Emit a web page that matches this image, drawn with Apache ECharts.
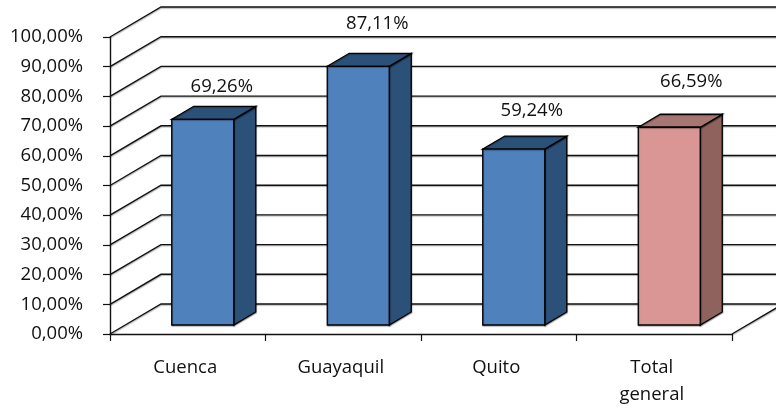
<!DOCTYPE html>
<html>
<head>
<meta charset="utf-8">
<style>html,body{margin:0;padding:0;background:#fff}#c{width:776px;height:408px}</style>
<script src="https://cdn.jsdelivr.net/npm/echarts@6/dist/echarts.min.js"></script>
</head>
<body>
<div id="c"></div>
<script>
const categories = ['Cuenca', 'Guayaquil', 'Quito', 'Total\ngeneral'];
const values = [69.26, 87.11, 59.24, 66.59];
const valueLabels = ['69,26%', '87,11%', '59,24%', '66,59%'];
const gridValues = [0, 10, 20, 30, 40, 50, 60, 70, 80, 90, 100];

const labelFamily = '"Open Sans", "Noto Sans", sans-serif';
const wallDepth = [51, -30];
const barFrontDepth = [15, -9];
const barDepth = [22, -13];
const barWidth = 62;
const labelShift = [[19, -33], [19, -43], [18, -38], [22, -45]];
const palette = [
  { front: '#4F81BD', top: '#2C5179', side: '#2C5179' },
  { front: '#4F81BD', top: '#2C5179', side: '#2C5179' },
  { front: '#4F81BD', top: '#2C5179', side: '#2C5179' },
  { front: '#D99694', top: '#A87672', side: '#8E635E' }
];
const ink = '#111';
const softShadow = { shadowColor: 'rgba(0,0,0,0.3)', shadowBlur: 1, shadowOffsetX: 0.5, shadowOffsetY: 1 };

const chart = echarts.init(document.getElementById('c'), null, { renderer: 'canvas' });

function wallRender(params, api) {
  const v = api.value(0);
  const halfCat = api.size([1, 0])[0] / 2;
  const p = api.coord([0, v]);
  const left = p[0] - halfCat;
  const right = api.coord([categories.length - 1, v])[0] + halfCat;
  const points = [[left, p[1]], [left + wallDepth[0], p[1] + wallDepth[1]], [right + wallDepth[0], p[1] + wallDepth[1]]];
  const children = [{
    type: 'polyline',
    shape: { points: points },
    style: Object.assign({ fill: null, stroke: ink, lineWidth: 1.4 }, softShadow)
  }];
  if (v === 0) {
    children.push({
      type: 'line',
      shape: { x1: right, y1: p[1], x2: right + wallDepth[0], y2: p[1] + wallDepth[1] },
      style: Object.assign({ stroke: ink, lineWidth: 1.4 }, softShadow)
    });
  }
  return { type: 'group', children: children };
}

function barRender(params, api) {
  const i = api.value(0);
  const v = api.value(1);
  const c = palette[i];
  const base = api.coord([i, 0]);
  const top = api.coord([i, v]);
  const x0 = base[0] + barFrontDepth[0] - barWidth / 2;
  const x1 = x0 + barWidth;
  const yb = base[1] + barFrontDepth[1];
  const yt = top[1] + barFrontDepth[1];
  const dx = barDepth[0], dy = barDepth[1];
  const edge = { stroke: '#000', lineWidth: 1.3, lineJoin: 'miter' };
  return {
    type: 'group',
    children: [
      { type: 'polygon', shape: { points: [[x1, yt], [x1 + dx, yt + dy], [x1 + dx, yb + dy], [x1, yb]] },
        style: Object.assign({ fill: c.side }, edge, softShadow) },
      { type: 'polygon', shape: { points: [[x0, yt], [x0 + dx, yt + dy], [x1 + dx, yt + dy], [x1, yt]] },
        style: Object.assign({ fill: c.top }, edge, softShadow) },
      { type: 'rect', shape: { x: x0, y: yt, width: barWidth, height: yb - yt },
        style: Object.assign({ fill: c.front }, edge, softShadow) },
      { type: 'text', style: {
          x: base[0] + barFrontDepth[0] + labelShift[i][0],
          y: yt + labelShift[i][1],
          text: valueLabels[i], fill: '#111', align: 'center', verticalAlign: 'middle',
          font: '18.5px ' + labelFamily } }
    ]
  };
}

chart.setOption({
  animation: false,
  backgroundColor: '#fff',
  grid: { left: 110, right: 44, top: 37, bottom: 72, containLabel: false },
  xAxis: {
    type: 'category',
    data: categories,
    boundaryGap: true,
    axisLine: { show: true, lineStyle: { color: ink, width: 1.4 } },
    axisTick: { show: true, alignWithLabel: false, length: 7, lineStyle: { color: ink, width: 1.2 } },
    axisLabel: { color: '#111', fontFamily: labelFamily, fontSize: 18.5, margin: 20, lineHeight: 27, interval: 0, padding: [0, 5, 0, 0] },
    splitLine: { show: false }
  },
  yAxis: {
    type: 'value',
    min: 0,
    max: 100,
    interval: 10,
    axisLine: { show: true, lineStyle: { color: ink, width: 1.4 } },
    axisTick: { show: true, length: 7, lineStyle: { color: ink, width: 1.2 } },
    axisLabel: {
      color: '#111', fontFamily: labelFamily, fontSize: 18.5, margin: 27,
      formatter: function (v) { return v.toFixed(2).replace('.', ',') + '%'; }
    },
    splitLine: { show: false }
  },
  series: [
    {
      type: 'custom',
      coordinateSystem: 'cartesian2d',
      clip: false,
      silent: true,
      z: 1,
      encode: { y: 0 },
      data: gridValues.map(function (v) { return [v]; }),
      renderItem: wallRender
    },
    {
      type: 'custom',
      coordinateSystem: 'cartesian2d',
      clip: false,
      z: 2,
      encode: { x: 0, y: 1 },
      data: values.map(function (v, i) { return [i, v]; }),
      renderItem: barRender
    }
  ]
});
</script>
</body>
</html>
